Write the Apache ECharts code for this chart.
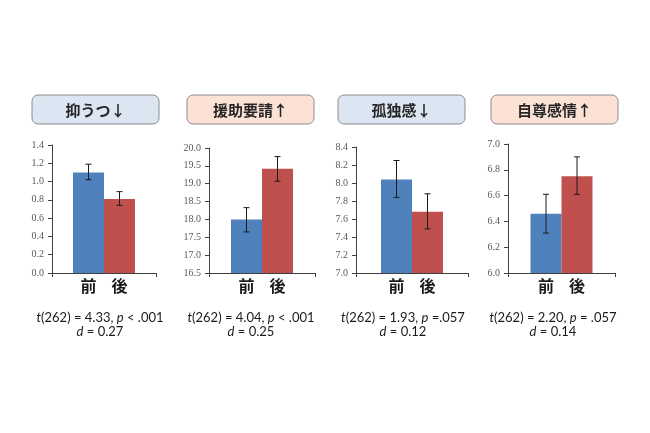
<!DOCTYPE html>
<html>
<head>
<meta charset="utf-8">
<script src="https://cdn.jsdelivr.net/npm/echarts@6/dist/echarts.min.js"></script>
<style>
  html, body { margin: 0; padding: 0; background: #fff; }
  #chart { width: 650px; height: 433px; }
</style>
</head>
<body>
<div id="chart"></div>
<script>
// データ
var panelTitles = ['抑うつ↓', '援助要請↑', '孤独感↓', '自尊感情↑'];
var timeLabels = ['前', '後'];
var preMeans = [1.10, 18.00, 8.04, 6.46];
var postMeans = [0.81, 19.42, 7.68, 6.75];
var preErr = [[1.02, 1.19], [17.65, 18.33], [7.84, 8.25], [6.31, 6.61]];
var postErr = [[0.74, 0.89], [19.07, 19.76], [7.49, 7.88], [6.61, 6.90]];
var yMin = [0, 16.5, 7.0, 6.0];
var yMax = [1.4, 20.0, 8.4, 7.0];
var yStep = [0.2, 0.5, 0.2, 0.2];
var tValues = ['4.33', '4.04', '1.93', '2.20'];
var pTexts = ['< .001', '< .001', '=.057', '= .057'];
var dValues = ['0.27', '0.25', '0.12', '0.14'];

// レイアウト
var gridLeft = [52, 209, 356, 508];
var gridWidth = [104, 106, 112, 107];
var gridTop = [145, 148, 147, 144];
var boxLeft = [32, 187, 338, 491];
var boxFill = ['#dce6f2', '#fbe2d5', '#dce6f2', '#fbe2d5'];
var textCenter = [100, 251, 403, 553];
var barW = 31;

var myChart = echarts.init(document.getElementById('chart'));

var grids = [], xAxes = [], yAxes = [], series = [], graphics = [];

function errorSeries(i, lohi, side) {
    return {
        type: 'custom',
        xAxisIndex: i,
        yAxisIndex: i,
        z: 5,
        data: [[0, lohi[0], lohi[1]]],
        renderItem: function(params, api) {
            var lo = api.coord([api.value(0), api.value(1)]);
            var hi = api.coord([api.value(0), api.value(2)]);
            var x = lo[0] + side * barW / 2;
            var st = { stroke: '#1a1a1a', lineWidth: 1 };
            return {
                type: 'group',
                children: [
                    { type: 'line', shape: { x1: x, y1: lo[1], x2: x, y2: hi[1] }, style: st },
                    { type: 'line', shape: { x1: x - 3, y1: lo[1], x2: x + 3, y2: lo[1] }, style: st },
                    { type: 'line', shape: { x1: x - 3, y1: hi[1], x2: x + 3, y2: hi[1] }, style: st }
                ]
            };
        }
    };
}

function lbl(txt) {
    return {
        show: true, position: 'bottom', distance: 5,
        formatter: txt, fontSize: 16, fontWeight: 'bold',
        color: '#1a1a1a', fontFamily: 'Noto Sans CJK JP'
    };
}

for (var i = 0; i < 4; i++) {
    grids.push({ left: gridLeft[i], top: gridTop[i], width: gridWidth[i], bottom: 160 });
    xAxes.push({
        type: 'category',
        gridIndex: i,
        data: [''],
        axisLine: { lineStyle: { color: '#404040', width: 1 } },
        axisTick: { show: true, length: 4, lineStyle: { color: '#404040' } },
        axisLabel: { show: false }
    });
    yAxes.push({
        type: 'value',
        gridIndex: i,
        min: yMin[i],
        max: yMax[i],
        interval: yStep[i],
        splitLine: { show: false },
        axisLine: { show: true, lineStyle: { color: '#404040', width: 1 } },
        axisTick: { show: true, length: 4, lineStyle: { color: '#404040' } },
        axisLabel: {
            margin: 8,
            fontFamily: 'Liberation Serif',
            fontSize: 10,
            color: '#595959',
            formatter: function(v) { return v.toFixed(1); }
        }
    });
    series.push({
        name: timeLabels[0], type: 'bar', xAxisIndex: i, yAxisIndex: i,
        barWidth: barW, barGap: '0%',
        itemStyle: { color: '#4f81bd' },
        label: lbl(timeLabels[0]),
        data: [preMeans[i]]
    });
    series.push({
        name: timeLabels[1], type: 'bar', xAxisIndex: i, yAxisIndex: i,
        barWidth: barW, barGap: '0%',
        itemStyle: { color: '#c0504d' },
        label: lbl(timeLabels[1]),
        data: [postMeans[i]]
    });
    series.push(errorSeries(i, preErr[i], -1));
    series.push(errorSeries(i, postErr[i], 1));

    // 見出しボックス
    graphics.push({
        type: 'rect',
        shape: { x: boxLeft[i], y: 95, width: 127, height: 29, r: 6 },
        style: { fill: boxFill[i], stroke: '#8c8c8c', lineWidth: 1 }
    });
    graphics.push({
        type: 'text',
        x: boxLeft[i] + 63.5, y: 110,
        style: {
            text: panelTitles[i], align: 'center', verticalAlign: 'middle',
            fontSize: 15, fontWeight: 'bold', fill: '#262626',
            fontFamily: 'Noto Sans CJK JP'
        }
    });
    // 統計量
    graphics.push({
        type: 'text',
        x: textCenter[i], y: 311,
        style: {
            text: '{i|t}(262) = ' + tValues[i] + ', {i|p} ' + pTexts[i] + '\n{i|d} = ' + dValues[i],
            align: 'center', verticalAlign: 'top',
            fontSize: 13, lineHeight: 14, fill: '#1a1a1a',
            fontFamily: 'Lato',
            rich: { i: { fontStyle: 'italic', fontSize: 13, fill: '#1a1a1a', fontFamily: 'Lato' } }
        }
    });
}

var option = {
    backgroundColor: '#fff',
    animation: false,
    grid: grids,
    xAxis: xAxes,
    yAxis: yAxes,
    series: series,
    graphic: graphics
};
myChart.setOption(option);
</script>
</body>
</html>
